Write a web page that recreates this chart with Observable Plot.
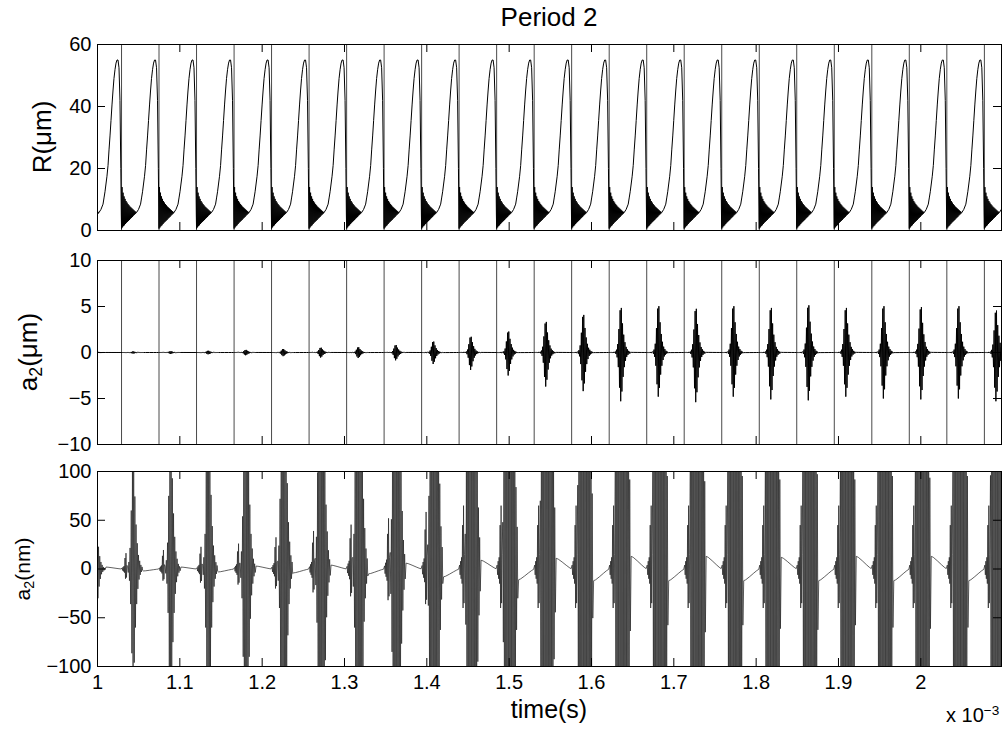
<!DOCTYPE html>
<html><head><meta charset="utf-8">
<script src="https://cdn.jsdelivr.net/npm/d3@7"></script>
<script src="https://cdn.jsdelivr.net/npm/@observablehq/plot@0.6"></script>
<style>
body{margin:0;background:#fff;}
#wrap{position:relative;width:1004px;height:729px;font-family:"Liberation Sans",Arial,Helvetica,sans-serif;color:#000;background:#fff;overflow:hidden;}
.box{position:absolute;left:0;}
.lab{position:absolute;white-space:nowrap;line-height:1;}
.ylab{position:absolute;white-space:nowrap;line-height:1;transform:translate(-50%,-50%) rotate(-90deg);}
sub{font-size:0.68em;vertical-align:-0.3em;line-height:0;}
sup{font-size:0.68em;vertical-align:0.55em;line-height:0;}
</style></head><body><div id="wrap"></div>
<script>
// ---------------- data ----------------
// time of each bubble collapse (ms); first one lies just before the plotted window
const collapseMs = [0.9836, 1.0292, 1.0747, 1.1203, 1.1659, 1.2114, 1.2570, 1.3026, 1.3481,
  1.3937, 1.4392, 1.4848, 1.5304, 1.5759, 1.6215, 1.6671, 1.7126, 1.7582, 1.8038,
  1.8493, 1.8949, 1.9405, 1.9860, 2.0316, 2.0772];

// R(um): after-bounce envelope right after a collapse, sampled every 1.215 us
const rBounceStepUs = 1.215;
const rBounceLow  = [0.6, 1.0, 1.4, 1.7, 2.1, 2.5, 2.8, 3.1, 3.4, 3.8, 4.1, 4.4, 4.8, 5.1, 5.4];
const rBounceHigh = [14, 12.2, 11, 10.2, 9.5, 9.0, 8.5, 8.1, 7.7, 7.4, 7.1, 6.8, 6.5, 6.2, 6.0];
// R(um): slow growth and expansion up to the next collapse (us after collapse)
const rGrowUs  = [18.2, 20.6, 23.1, 24.3, 25.5, 26.7, 27.9, 29.2, 30.4, 31.6, 32.8, 34.0, 35.2, 36.4, 37.7, 38.9, 40.1, 41.3, 42.5, 43.7, 44.7, 45.3];
const rGrowVal = [5.8, 6.8, 8.5, 10.5, 12.5, 15, 17.5, 21, 26, 30.5, 35.5, 40.5, 45, 49, 52, 54, 55, 55, 52.5, 42, 20, 5];

// a2: small spikes right at collapse (us after collapse, nm at full strength)
const a2PreUs = [0.6, 1.2, 1.8, 2.4, 3.0, 3.6, 4.2, 4.8, 5.4, 6.0, 6.6];
const a2PreNm = [4, -6, 8, -10, 12, -15, 45, -40, 65, -35, 15];
// a2: shape-mode burst (normalised), centred 14 us after collapse, one value every 0.73 us
const a2BurstCenterUs = 14;
const a2BurstStepUs = 0.73;
const a2BurstShape = [0.02, -0.03, 0.06, -0.1, 0.18, -0.3, 0.5, -0.72, 0.9, -1.0, 0.95, -0.8, 0.62,
  -0.5, 0.38, -0.3, 0.22, -0.17, 0.12, -0.09, 0.07, -0.05, 0.035, -0.025, 0.018, -0.012];
// a2: slow drift between bursts (us after collapse, normalised)
const a2TailUs = [26.7, 29.2, 34.0, 38.9, 42.5, 44.9];
const a2TailShape = [1.0, 0.92, 0.65, 0.35, 0.14, 0.03];

// per-collapse values (same order as collapseMs)
const burstTopUm = [0.06, 0.12, 0.15, 0.2, 0.3, 0.4, 0.55, 0.6, 0.85, 1.25, 1.8, 2.4, 3.5, 4.3, 5.1, 5.3, 5.0, 5.3, 5.1, 5.4, 5.1, 5.3, 5.2, 5.3, 4.8];
const burstBotUm = [0.06, 0.12, 0.15, 0.2, 0.3, 0.4, 0.55, 0.6, 0.85, 1.25, 1.9, 2.5, 3.7, 4.2, 5.3, 4.8, 5.4, 4.8, 5.1, 5.2, 4.8, 5.0, 5.1, 5.0, 5.3];
const preStrength = [0.1, 0.25, 0.3, 0.35, 0.4, 0.5, 0.6, 0.7, 0.8, 0.9, 1, 1, 1, 1, 1, 1, 1, 1, 1, 1, 1, 1, 1, 1, 1];
const tailNm = [2, -2, 2, -3, 3, -4, 4, -5, 6, -8, 9, -11, 11, -12, 13, -12, 13, -12, 12, -12, 13, -12, 13, -12, 12];

// axes
const xDomainMs = [1, 2.098];
const xTicks = [1, 1.1, 1.2, 1.3, 1.4, 1.5, 1.6, 1.7, 1.8, 1.9, 2.0];
const xTickLabels = ["1", "1.1", "1.2", "1.3", "1.4", "1.5", "1.6", "1.7", "1.8", "1.9", "2"];
const rTicks = [0, 20, 40, 60];
const a2umTicks = [-10, -5, 0, 5, 10];
const a2nmTicks = [-100, -50, 0, 50, 100];

// ---------------- build series ----------------
const rSeries = [];
const a2Series = [];
collapseMs.forEach((c, k) => {
  rBounceLow.forEach((lo, i) => {
    rSeries.push({t: c + (i * rBounceStepUs) / 1000, v: lo});
    rSeries.push({t: c + (i * rBounceStepUs + rBounceStepUs / 2) / 1000, v: rBounceHigh[i]});
  });
  rGrowUs.forEach((u, i) => rSeries.push({t: c + u / 1000, v: rGrowVal[i]}));

  a2PreUs.forEach((u, i) => a2Series.push({t: c + u / 1000, v: a2PreNm[i] * preStrength[k] / 1000}));
  a2BurstShape.forEach((s, i) => a2Series.push({
    t: c + (a2BurstCenterUs + (i - 9) * a2BurstStepUs) / 1000,
    v: s * (s > 0 ? burstTopUm[k] : burstBotUm[k])
  }));
  a2TailUs.forEach((u, i) => a2Series.push({t: c + u / 1000, v: a2TailShape[i] * tailNm[k] / 1000}));
});
const a2nmSeries = a2Series.map(d => ({t: d.t, v: d.v * 1000}));
const markerLines = collapseMs.filter(c => c >= xDomainMs[0] && c <= xDomainMs[1]);

// ---------------- drawing ----------------
const W = 1004, ML = 97, MR = 3, TICK = 8;
const font = {fontFamily: "'Liberation Sans', Arial, Helvetica, sans-serif", fontSize: "20px", color: "#000", background: "transparent", overflow: "visible"};

function panel({top, height, mt, mb, yDomain, yTicks, data, lines, showX, lineWidth, lineColor}) {
  const fh = height - mt - mb, fw = W - ML - MR;
  const marks = [];
  if (lines) marks.push(Plot.ruleX(lines, {x: d => d, stroke: "#4a4a4a", strokeWidth: 1}));
  marks.push(Plot.line(data, {x: "t", y: "v", stroke: lineColor || "#000", strokeWidth: lineWidth || 1, clip: true}));
  // inward ticks (MATLAB style) on all four sides
  marks.push(Plot.tickX(xTicks, {x: d => d, stroke: "#000", insetBottom: fh - TICK}));
  marks.push(Plot.tickX(xTicks, {x: d => d, stroke: "#000", insetTop: fh - TICK}));
  marks.push(Plot.tickY(yTicks, {y: d => d, stroke: "#000", insetRight: fw - TICK}));
  marks.push(Plot.tickY(yTicks, {y: d => d, stroke: "#000", insetLeft: fw - TICK}));
  marks.push(Plot.frame({stroke: "#000", strokeWidth: 1}));
  marks.push(Plot.axisY(yTicks, {tickSize: 0, tickPadding: 6, label: null}));
  if (showX) marks.push(Plot.axisX(xTicks, {tickSize: 0, tickPadding: 8, label: null,
    tickFormat: d => xTickLabels[xTicks.indexOf(d)]}));
  const svg = Plot.plot({
    width: W, height, marginLeft: ML, marginRight: MR, marginTop: mt, marginBottom: mb,
    style: font,
    x: {domain: xDomainMs, axis: null},
    y: {domain: yDomain, axis: null},
    marks
  });
  const box = document.createElement("div");
  box.className = "box";
  box.style.top = top + "px";
  box.appendChild(svg);
  return box;
}

const wrap = document.getElementById("wrap");
wrap.appendChild(panel({top: 0, height: 240, mt: 44, mb: 10, yDomain: [0, 60], yTicks: rTicks, data: rSeries, lines: markerLines}));
wrap.appendChild(panel({top: 240, height: 214, mt: 20, mb: 10, yDomain: [-10, 10], yTicks: a2umTicks, data: a2Series, lines: markerLines}));
wrap.appendChild(panel({top: 454, height: 275, mt: 17, mb: 63, yDomain: [-100, 100], yTicks: a2nmTicks, data: a2nmSeries, showX: true, lineWidth: 0.7, lineColor: "#1e1e1e"}));

function addText(html, cls, css) {
  const d = document.createElement("div");
  d.className = cls; d.innerHTML = html;
  Object.assign(d.style, css);
  wrap.appendChild(d);
}
addText("Period 2", "lab", {left: "549px", top: "4px", fontSize: "26px", transform: "translateX(-50%)"});
addText("time(s)", "lab", {left: "549px", top: "697px", fontSize: "25px", transform: "translateX(-50%)"});
addText("x 10<sup>−3</sup>", "lab", {left: "946px", top: "705px", fontSize: "20px"});
addText("R(μm)", "ylab", {left: "42px", top: "137px", fontSize: "26px"});
addText("a<sub>2</sub>(μm)", "ylab", {left: "28px", top: "352px", fontSize: "26px"});
addText("a<sub>2</sub>(nm)", "ylab", {left: "22px", top: "569px", fontSize: "21px"});
</script></body></html>
